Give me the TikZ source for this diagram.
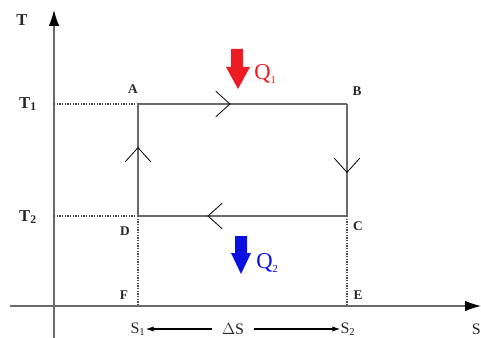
\documentclass[tikz,border=0pt]{standalone}
\usepackage{fontspec}
\setmainfont{Liberation Serif}
\usetikzlibrary{positioning,arrows.meta,decorations.markings}

\definecolor{heatred}{HTML}{ED1C24}
\definecolor{heatblue}{HTML}{0A10E0}
\definecolor{linegray}{HTML}{6A6A6A}

\tikzset{
  axis/.style={draw=linegray, line width=1.1pt, -{Latex[length=12pt,width=8pt,black]}},
  loopline/.style={draw=linegray, line width=1.4pt},
  guide/.style={draw=black!70, line width=0.9pt, dash pattern=on 0.9pt off 1.1pt},
  chev/.style={postaction={decorate, decoration={markings,
      mark=at position #1 with {\draw[black, line width=0.6pt, line cap=round]
        (-10.5pt,9.5pt) -- (0,0) -- (-10.5pt,-9.5pt);}}}},
  lbl/.style={font=\bfseries\fontsize{10}{12}\selectfont, text=black!85, inner sep=0pt},
  tlbl/.style={font=\bfseries\fontsize{12.5}{14}\selectfont, text=black!85, inner sep=0pt},
  slbl/.style={font=\fontsize{12}{14}\selectfont, text=black!85, inner sep=0pt},
  qlbl/.style={font=\fontsize{17}{19}\selectfont, inner sep=0pt, anchor=west},
}

\begin{document}
\begin{tikzpicture}[x=0.75pt, y=-0.75pt]
  \useasboundingbox (0,0) rectangle (481,338);

  % axes
  \coordinate (o1) at (54,338);
  \coordinate (ytop) at (54,10);
  \coordinate (o2) at (10,306);
  \coordinate (xend) at (481,306);
  \draw[axis] (o1) -- (ytop);
  \draw[axis] (o2) -- (xend);

  % corners of the cycle
  \coordinate (A) at (138,104);
  \coordinate (B) at (347,104);
  \coordinate (C) at (347,216);
  \coordinate (D) at (138,216);
  \coordinate (E) at (347,306);
  \coordinate (F) at (138,306);
  \coordinate (t1) at (54,104);
  \coordinate (t2) at (54,216);

  % dotted guides
  \draw[guide] (t1) -- (A);
  \draw[guide] (t2) -- (D);
  \draw[guide] (D) -- (F);
  \draw[guide] (C) -- (E);

  % cycle A-B-C-D
  \draw[loopline, chev=0.44] (A) -- (B);
  \draw[loopline, chev=0.61] (B) -- (C);
  \draw[loopline, chev=0.665] (C) -- (D);
  \draw[loopline, chev=0.61] (D) -- (A);

  % heat arrows
  \fill[heatred] (231,49) -- (243,49) -- (243,67) -- (250,67) -- (238,89)
    -- (226,67) -- (231,67) -- cycle;
  \fill[heatblue] (235,236) -- (247,236) -- (247,253) -- (251,253) -- (241,274)
    -- (231,253) -- (235,253) -- cycle;
  \node[qlbl, text=heatred] (Q1) at (254,74) {Q\textsubscript{\footnotesize 1}};
  \node[qlbl, text=heatblue] (Q2) at (256,263) {Q\textsubscript{\footnotesize 2}};

  % labels
  \node[tlbl] (Tax) at (22,20) {T};
  \node[tlbl] (T1) at (28,104) {T\textsubscript{1}};
  \node[tlbl] (T2) at (28,217) {T\textsubscript{2}};
  \node[lbl] (Alab) at (133,89) {A};
  \node[lbl] (Blab) at (357,91) {B};
  \node[lbl] (Clab) at (358,226) {C};
  \node[lbl] (Dlab) at (125,231) {D};
  \node[lbl] (Elab) at (358,295) {E};
  \node[lbl] (Flab) at (124,295) {F};
  \node[slbl] (S1) at (138,329) {S\textsubscript{1}};
  \node[slbl] (S2) at (348,329) {S\textsubscript{2}};
  \node[slbl, anchor=east] (Sax) at (481,329) {S};
  \node[slbl, inner xsep=7pt] (dS) at (233,329) {$\Delta$S};
  \draw[-{Latex[length=6pt,width=4pt]}, line width=0.8pt] (dS) -- (S1);
  \draw[-{Latex[length=6pt,width=4pt]}, line width=0.8pt] (dS) -- (S2);
\end{tikzpicture}
\end{document}
